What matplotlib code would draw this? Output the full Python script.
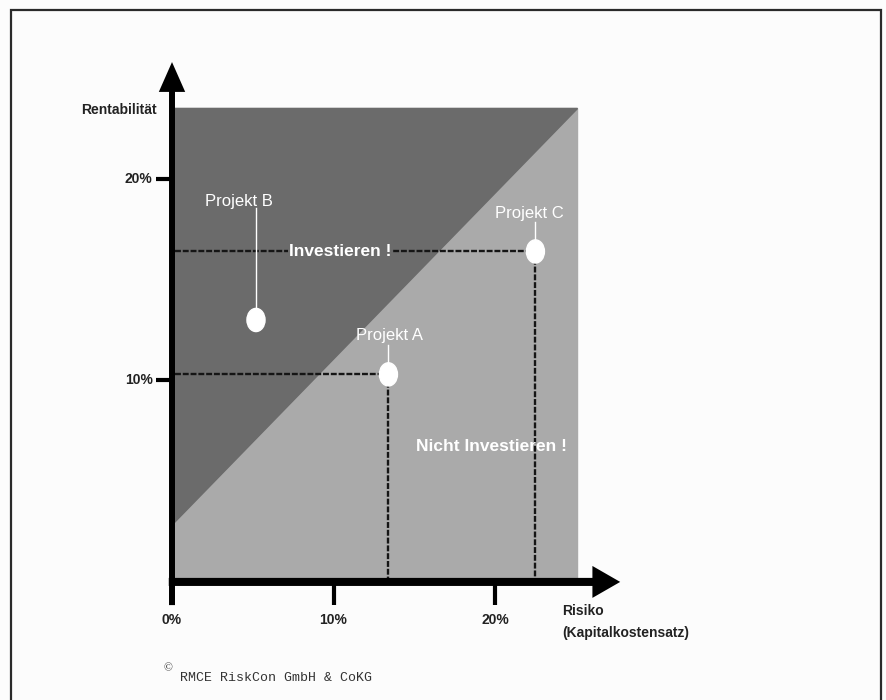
import matplotlib.pyplot as plt
from matplotlib.patches import Polygon, Rectangle, Ellipse

# projects: risk (cost of capital, %) vs. return (%)
projects = ['Projekt A', 'Projekt B', 'Projekt C']
risk = [13.4, 5.2, 22.5]
returns = [10.3, 13.0, 16.4]
dashed = [True, False, True]  # projects with guide lines to the axes

x_ticks = [0, 10, 20]
x_tick_labels = ['0%', '10%', '20%']
y_ticks = [10, 20]
y_tick_labels = ['10%', '20%']

# label placement for each project (text centre, top of leader line)
label_xy = [(13.45, 12.25), (4.15, 18.9), (22.1, 18.3)]
leader_top = [11.75, 18.55, 17.85]

# decision zones
zone_right = 25.1
zone_top = 23.5
split_left = 2.85

dark = '#6b6b6b'
light = '#aaaaaa'
bold_font = ['Liberation Sans Narrow', 'Liberation Sans', 'DejaVu Sans']

fig = plt.figure(figsize=(8.87, 7), dpi=100)
fig.patch.set_facecolor('#fcfcfc')
ax = fig.add_axes([0, 0, 1, 1])
ax.set_xlim(-10.65, 44.27)
ax.set_ylim(-5.86, 28.88)
ax.axis('off')

# zones
ax.add_patch(Rectangle((0, 0), zone_right, zone_top, color=light, zorder=1))
ax.add_patch(Polygon([(0, split_left), (0, zone_top), (zone_right, zone_top)],
                     closed=True, color=dark, zorder=2))

# axes with arrow heads (sizes in points)
ax.annotate('', xy=(0, 25.8), xytext=(0, -1.15),
            arrowprops=dict(arrowstyle='simple,head_length=21.5,head_width=19,tail_width=4.3',
                            mutation_scale=1, lw=0, color='black',
                            shrinkA=0, shrinkB=0), zorder=6)
ax.annotate('', xy=(27.75, 0), xytext=(-0.2, 0),
            arrowprops=dict(arrowstyle='simple,head_length=20,head_width=23,tail_width=5.8',
                            mutation_scale=1, lw=0, color='black',
                            shrinkA=0, shrinkB=0), zorder=6)

for t, lab in zip(x_ticks, x_tick_labels):
    ax.plot([t, t], [0, -1.15], color='black', lw=3, solid_capstyle='butt', zorder=6)
    ax.text(t, -1.9, lab, ha='center', va='center', fontsize=10,
            fontweight='bold', family=bold_font, color='#222222')
for t, lab in zip(y_ticks, y_tick_labels):
    ax.plot([-1.0, 0], [t, t], color='black', lw=3, solid_capstyle='butt', zorder=6)
    ax.text(-1.2, t, lab, ha='right', va='center', fontsize=10,
            fontweight='bold', family=bold_font, color='#222222')

ax.text(-0.95, 23.42, 'Rentabilität', ha='right', va='center', fontsize=10,
        fontweight='bold', family=bold_font, color='#222222')
ax.text(24.15, -1.45, 'Risiko', ha='left', va='center', fontsize=10,
        fontweight='bold', family=bold_font, color='#222222')
ax.text(24.15, -2.55, '(Kapitalkostensatz)', ha='left', va='center', fontsize=10,
        fontweight='bold', family=bold_font, color='#222222')

# guide lines from projects to the axes
for x, y, d in zip(risk, returns, dashed):
    if d:
        ax.plot([0.2, x], [y, y], color='#151515', lw=1.7, ls=(0, (2.5, 0.8)), zorder=3)
        ax.plot([x, x], [y, 0.2], color='#151515', lw=1.7, ls=(0, (2.5, 0.8)), zorder=3)

# projects with labels
for name, x, y, (lx, ly), top in zip(projects, risk, returns, label_xy, leader_top):
    ax.plot([x, x], [y, top], color='white', lw=1, zorder=4)
    ax.add_patch(Ellipse((x, y), 1.12, 1.15, color='white', zorder=5))
    ax.text(lx, ly, name, ha='center', va='center', fontsize=12,
            color='white', family='Liberation Sans', zorder=5)

ax.text(10.4, 16.4, 'Investieren !', ha='center', va='center', fontsize=12.5,
        fontweight='bold', family=bold_font, color='white', zorder=5,
        bbox=dict(boxstyle='square,pad=0.05', fc=dark, ec='none'))
ax.text(19.8, 6.7, 'Nicht Investieren !', ha='center', va='center', fontsize=12.5,
        fontweight='bold', family=bold_font, color='white', zorder=5)

# copyright line
ax.text(-0.25, -4.3, '©', ha='center', va='center', fontsize=8.5,
        family='Liberation Serif', color='#333333')
ax.text(0.5, -4.78, 'RMCE RiskCon GmbH & CoKG', ha='left', va='center',
        fontsize=9.5, family='Liberation Mono', color='#333333')

# page frame
fig.add_artist(Rectangle((11 / 887, -0.05), 870 / 887, 1 - 10 / 700 + 0.05,
                         transform=fig.transFigure, fill=False,
                         lw=1.6, ec='#2a2a2a'))

fig.savefig('out.png', dpi=100, facecolor=fig.get_facecolor())
